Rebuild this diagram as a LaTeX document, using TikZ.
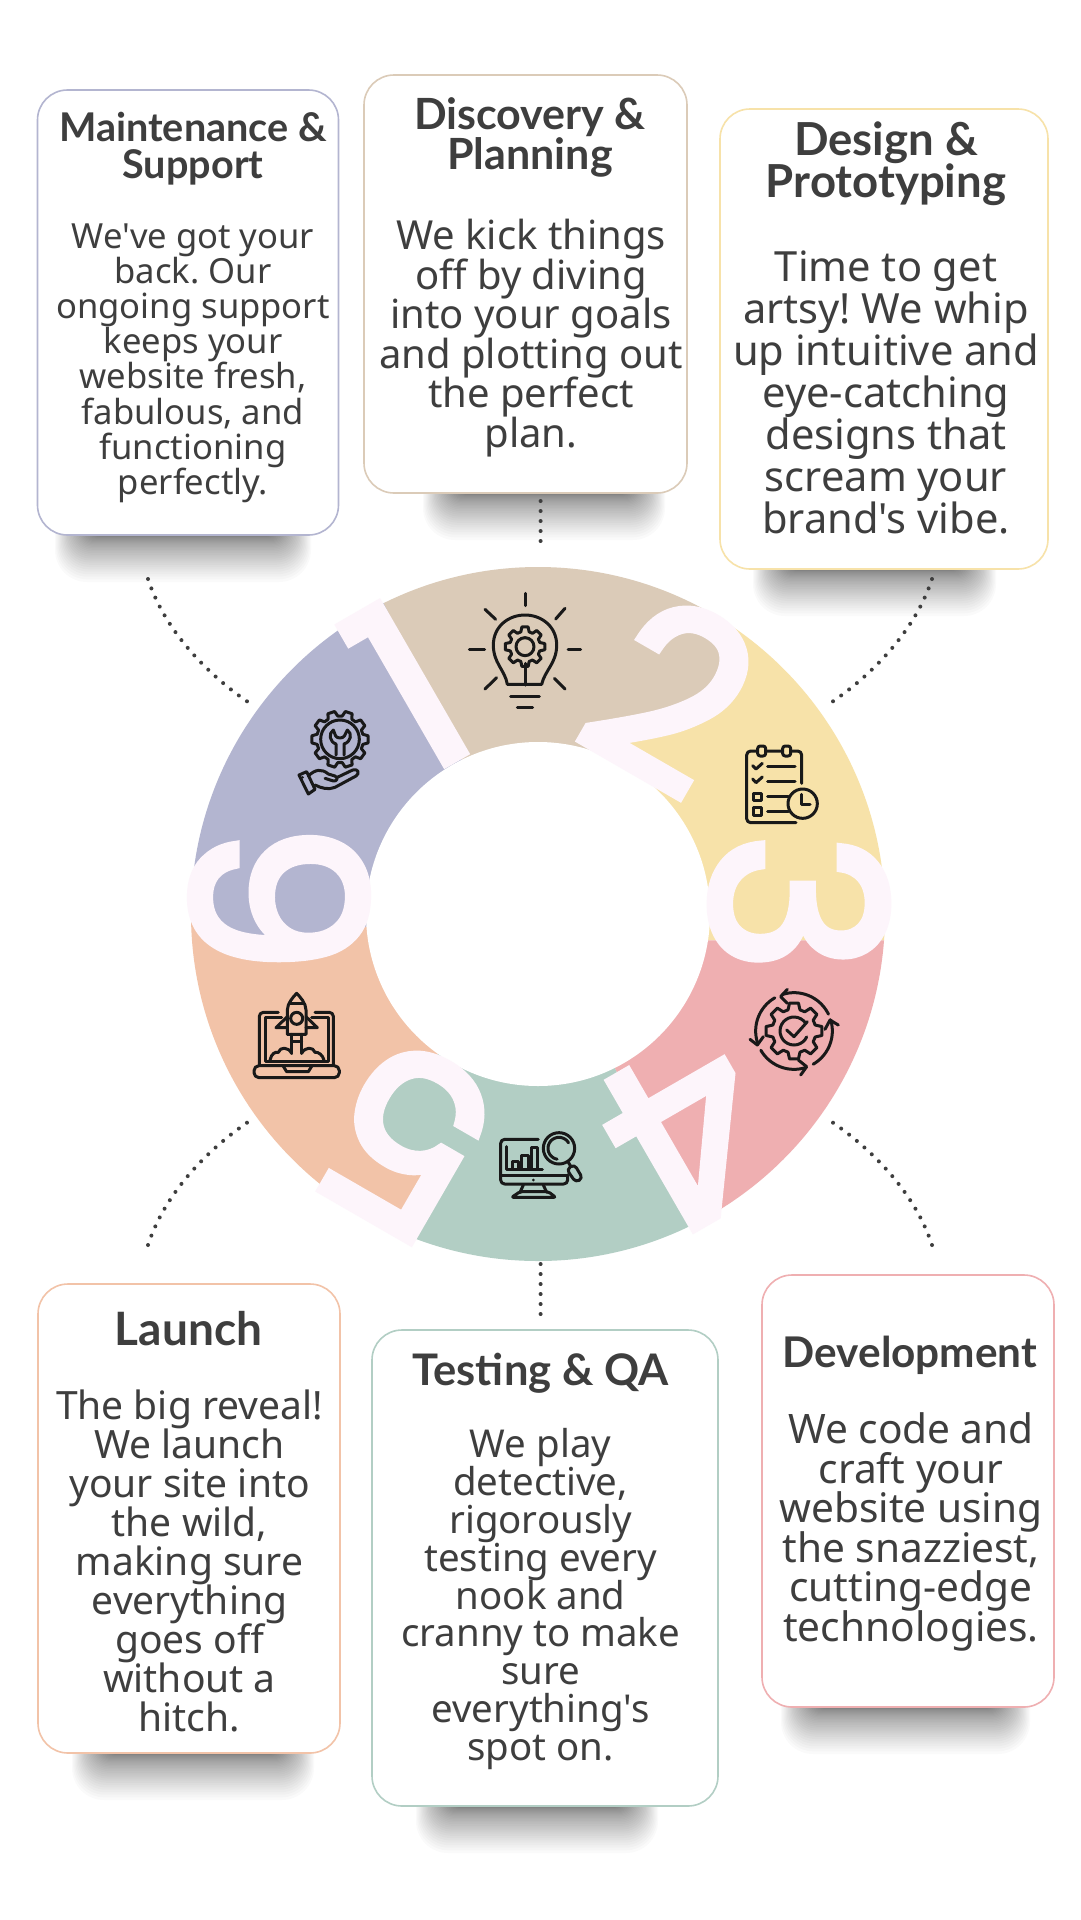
\documentclass[tikz,border=0pt]{standalone}
\usepackage{fontspec}
\newfontfamily\cardfont{Noto Sans}
\newfontfamily\titlefont{Lato}
\newfontfamily\digitfont[FakeBold=3.4]{Poppins}
\definecolor{ctan}{HTML}{DBCBB8}
\definecolor{cyel}{HTML}{F7E2A9}
\definecolor{cpink}{HTML}{EFAFB1}
\definecolor{cgreen}{HTML}{B2CEC4}
\definecolor{corange}{HTML}{F2C3A8}
\definecolor{cpurple}{HTML}{B3B5D0}
\definecolor{cdigit}{HTML}{FDF5FB}
\definecolor{ctext}{HTML}{3E3E3E}
\tikzset{
  cardbox/.style={draw=#1,fill=white,line width=1.6pt,rounded corners=30pt,inner sep=0pt},
  ttl/.style 2 args={text=ctext,align=center,inner sep=0pt,execute at begin node={\lineskiplimit=-100pt\frenchspacing},font=\titlefont\fontsize{#1}{#2}\selectfont\bfseries},
  bdy/.style 2 args={text=ctext,align=center,inner sep=0pt,execute at begin node={\lineskiplimit=-100pt\frenchspacing},font=\cardfont\fontsize{#1}{#2}\selectfont},
  digitnode/.style={text=cdigit,inner sep=0pt,font=\fontsize{238}{238}\selectfont\digitfont},
  dotlink/.style={draw=ctext,line width=4pt,line cap=round,dash pattern=on 0pt off 10pt},
  ico/.style={draw=black!90,line width=3pt,line cap=round,line join=round},
  icog/.style={shift={(#1)},scale=0.33333},
}
\newcommand\softshadow[3]{% x1 x2 y0
  \foreach \k in {1,...,32}{%
    \pgfmathsetmacro\tt{\k/32}
    \pgfmathsetmacro\dd{38*\tt-20}
    \pgfmathsetmacro\rr{6+26*\tt}
    \pgfmathsetmacro\bb{#3+1+46*\tt^1.9}
    \fill[black,opacity=0.02,rounded corners=\rr pt] ({#1-\dd},{#3-40}) rectangle ({#2+\dd},\bb);
  }}
\newcommand\gearshape[6]{% cx cy ro ri n rot
  \def\gs{(360/#5)}%
  \draw[ico] ({#1+#4*cos(-0.35*\gs+#6)},{#2+#4*sin(-0.35*\gs+#6)})
    foreach \k in {0,...,\numexpr#5-1\relax}{
      -- ({#1+#4*cos((\k-0.35)*\gs+#6)},{#2+#4*sin((\k-0.35)*\gs+#6)})
      -- ({#1+#3*cos((\k-0.2)*\gs+#6)},{#2+#3*sin((\k-0.2)*\gs+#6)})
      -- ({#1+#3*cos((\k+0.2)*\gs+#6)},{#2+#3*sin((\k+0.2)*\gs+#6)})
      -- ({#1+#4*cos((\k+0.35)*\gs+#6)},{#2+#4*sin((\k+0.35)*\gs+#6)})
    } -- cycle;}
\newcommand\arcp[5]{% cx cy r a b
  \draw[ico] plot[domain=#4:#5,samples=24] ({#1+#3*cos(\x)},{#2+#3*sin(\x)});}
\begin{document}
\begin{tikzpicture}[x=1pt,y=-1pt]
\useasboundingbox (0,0) rectangle (1080,1920);
\fill[white] (0,0) rectangle (1080,1920);
% shadows
\softshadow{73}{293}{535}
\softshadow{441}{647}{493}
\softshadow{771}{978}{569}
\softshadow{90}{296}{1753}
\softshadow{434}{640}{1806}
\softshadow{799}{1012}{1707}
% ring: sectors meet under the digits
\begin{scope}
\clip (538,914) circle (347);
\begin{scope}[shift={(180,550)},scale=0.45914]
\fill[ctan] (780,793) -- (610,450) -- (440,110) -- (270,-230) -- (1300,-230) -- (1300,0) -- (1190,140) -- (1215,240) -- (1190,300) -- (1100,355) -- (1000,380) -- (900,420) -- cycle;
\fill[cyel] (780,793) -- (900,420) -- (1000,380) -- (1100,355) -- (1190,300) -- (1215,240) -- (1190,140) -- (1300,0) -- (1700,0) -- (1700,850) -- (1150,850) -- cycle;
\fill[cpink] (780,793) -- (1150,850) -- (1700,850) -- (1700,1820) -- (1300,1820) -- (1125,1475) -- (945,1125) -- cycle;
\fill[cgreen] (780,793) -- (945,1125) -- (1125,1475) -- (1300,1820) -- (400,1820) -- (490,1450) -- (560,1340) -- (440,1300) -- (409,1200) -- (495,1110) -- (560,1100) -- cycle;
\fill[corange] (780,793) -- (560,1100) -- (495,1110) -- (409,1200) -- (440,1300) -- (560,1340) -- (490,1450) -- (400,1820) -- (-300,1820) -- (-300,790) -- (50,790) -- (110,860) -- (205,885) -- (300,880) -- (405,820) -- cycle;
\fill[cpurple] (780,793) -- (405,820) -- (300,880) -- (205,885) -- (110,860) -- (50,790) -- (-300,790) -- (-300,-230) -- (270,-230) -- (440,110) -- (610,450) -- cycle;
\end{scope}
\end{scope}
\fill[white] (538,914) circle (172);
% digits
\node[digitnode,rotate=30]  (d1) at (408,686) {1};
\node[digitnode,rotate=-30] (d2) at (672,694) {2};
\node[digitnode,rotate=-90] (d3) at (799,903) {3};
\node[digitnode,rotate=-150](d4) at (690,1133) {4};
\node[digitnode,rotate=150] (d5) at (407,1140) {5};
\node[digitnode,rotate=90]  (d6) at (279,900) {6};
% cards
\node[cardbox=cpurple,minimum width=301pt,minimum height=445pt] (mcard) at (188,312.5) {};
\node[cardbox=ctan,minimum width=323pt,minimum height=418pt] (dcard) at (525.5,284) {};
\node[cardbox=cyel,minimum width=328pt,minimum height=460pt] (pcard) at (884,339) {};
\node[cardbox=corange,minimum width=302pt,minimum height=469pt] (lcard) at (189,1518.5) {};
\node[cardbox=cgreen,minimum width=346pt,minimum height=476pt] (tcard) at (545,1568) {};
\node[cardbox=cpink,minimum width=292pt,minimum height=432pt] (vcard) at (908,1491) {};
% text
\node[ttl={39.6}{37}] (mt) at (193,149) {Maintenance \&\\Support};
\node[bdy={34.6}{35.2}] (mb) at (193,363) {We've got your\\back. Our\\ongoing support\\keeps your\\website fresh,\\fabulous, and\\functioning\\perfectly.};
\node[ttl={43}{40}] (dt) at (530,137) {Discovery \&\\Planning};
\node[bdy={40}{39.6}] (db) at (531,338) {We kick things\\off by diving\\into your goals\\and plotting out\\the perfect\\plan.};
\node[ttl={45.5}{42}] (pt) at (886,164) {Design \&\\Prototyping};
\node[bdy={41.6}{42}] (pb) at (886,392) {Time to get\\artsy! We whip\\up intuitive and\\eye-catching\\designs that\\scream your\\brand's vibe.};
\node[ttl={46}{42}] (lt) at (188.5,1329) {Launch};
\node[bdy={39}{39}] (lb) at (189.5,1561) {The big reveal!\\We launch\\your site into\\the wild,\\making sure\\everything\\goes off\\without a\\hitch.};
\node[ttl={43.5}{40}] (tt) at (540.6,1373) {Testing \& QA};
\node[bdy={38.4}{37.8}] (tb) at (540.6,1599) {We play\\detective,\\rigorously\\testing every\\nook and\\cranny to make\\sure\\everything's\\spot on.};
\node[ttl={42.3}{40}] (vt) at (910,1355) {Development};
\node[bdy={40.6}{39.6}] (vb) at (911,1532) {We code and\\craft your\\website using\\the snazziest,\\cutting-edge\\technologies.};
% connectors
\coordinate (c1a) at (540.6,501); \coordinate (c1b) at (540.6,551);
\coordinate (c2a) at (540.6,1264); \coordinate (c2b) at (540.6,1315);
\coordinate (c3a) at (148,579); \coordinate (c3b) at (248,702);
\coordinate (c4a) at (932,579); \coordinate (c4b) at (832,702);
\coordinate (c5a) at (148,1245); \coordinate (c5b) at (248,1122);
\coordinate (c6a) at (932,1245); \coordinate (c6b) at (832,1122);
\draw[dotlink] (c1a) -- (c1b);
\draw[dotlink] (c2a) -- (c2b);
\draw[dotlink] (c3a) .. controls (163,625) and (200,669) .. (c3b);
\draw[dotlink] (c4a) .. controls (917,625) and (880,669) .. (c4b);
\draw[dotlink] (c5a) .. controls (163,1199) and (200,1155) .. (c5b);
\draw[dotlink] (c6a) .. controls (917,1199) and (880,1155) .. (c6b);
% bulb
\begin{scope}[icog={450,575}]
\foreach \a/\b/\c/\d in {225/55/225/92,105/103/137/133,345/100/317/132,58/222/104/222,354/222/392/222,105/342/140/308,345/342/313/310,182/363/268/363,202/397/248/397,225/265/225/330}
  {\draw[ico] (\a,\b) -- (\c,\d);}
\draw[ico] (172,328) .. controls (165,285) and (130,265) .. (130,210) .. controls (130,155) and (175,120) .. (225,120) .. controls (275,120) and (320,155) .. (320,210) .. controls (320,265) and (285,285) .. (275,328) -- cycle;
\gearshape{225}{215}{60}{46}{8}{0}
\draw[ico] (225,215) circle (27);
\end{scope}
% checklist
\begin{scope}[icog={720,725}]
\draw[ico,rounded corners=4pt] (245,175) -- (245,78) -- (212,78) (188,78) -- (137,78) (113,78) -- (80,78) -- (80,293) -- (228,293);
\draw[ico,rounded corners=2.5pt] (113,63) rectangle (137,93);
\draw[ico,rounded corners=2.5pt] (188,63) rectangle (212,93);
\draw[ico] (98,122) -- (108,132) -- (127,115);
\draw[ico] (98,162) -- (108,173) -- (127,156);
\draw[ico] (143,123) -- (225,123);
\draw[ico] (143,168) -- (225,168);
\draw[ico] (143,213) -- (205,213);
\draw[ico] (143,259) -- (205,259);
\draw[ico] (101,204) rectangle (124,226);
\draw[ico] (101,248) rectangle (124,270);
\draw[ico] (248,236) circle (44);
\draw[ico] (245,208) -- (245,238) -- (270,238);
\end{scope}
% gear and arrows
\begin{scope}[icog={730,970}]
\gearshape{192}{183}{85}{66}{8}{0}
\arcp{192}{183}{42}{-35}{-335}
\draw[ico] (170,180) -- (192,200) -- (232,155);
\arcp{192}{183}{115}{-26}{-108}
\arcp{192}{183}{115}{-120}{-200}
\arcp{192}{183}{115}{150}{72}
\arcp{192}{183}{115}{60}{-17}
\draw[ico] (172,58) -- (152,80) -- (172,100);
\draw[ico] (60,208) -- (82,225) -- (100,200);
\draw[ico] (205,270) -- (230,290) -- (212,315);
\draw[ico] (285,178) -- (300,150) -- (325,165);
\end{scope}
% monitor
\begin{scope}[icog={485,1110}]
\draw[ico,rounded corners=4pt] (160,88) -- (47,88) -- (47,222) -- (248,222) -- (248,195);
\draw[ico] (47,195) -- (248,195);
\draw[ico] (115,225) -- (105,247);
\draw[ico] (175,225) -- (185,247);
\draw[ico,rounded corners=2pt] (105,245) -- (190,245) -- (212,262) -- (80,262) -- cycle;
\fill[black!90] (145,210) circle (4.5);
\draw[ico] (65,110) -- (65,178) -- (172,178);
\draw[ico] (82,178) -- (82,155) -- (100,155) -- (100,178);
\draw[ico] (110,178) -- (110,135) -- (130,135) -- (130,178);
\draw[ico] (140,178) -- (140,113) -- (157,113) -- (157,178);
\draw[ico] (222,115) circle (47);
\arcp{222}{115}{33}{100}{330}
\draw[ico] (250,157) -- (258,170);
\draw[ico,rounded corners=4pt] (245,178) -- (268,163) -- (293,205) -- (272,217) -- cycle;
\end{scope}
% laptop
\begin{scope}[icog={240,975}]
\draw[ico,rounded corners=4pt] (115,112) -- (58,112) -- (58,270);
\draw[ico,rounded corners=4pt] (225,112) -- (280,112) -- (280,270);
\draw[ico] (125,128) -- (75,128) -- (75,258) -- (265,258) -- (265,128) -- (215,128);
\draw[ico,rounded corners=5pt] (42,272) rectangle (298,308);
\draw[ico] (130,274) -- (140,290) -- (205,290) -- (215,274);
\draw[ico] (142,178) -- (142,105) .. controls (142,85) and (160,65) .. (170,55) .. controls (180,65) and (198,85) .. (198,105) -- (198,178) -- cycle;
\draw[ico] (150,85) -- (190,85);
\draw[ico] (170,130) circle (18);
\draw[ico] (142,125) -- (108,158) -- (142,158);
\draw[ico] (198,125) -- (232,158) -- (198,158);
\draw[ico] (155,178) -- (155,235);
\draw[ico] (185,178) -- (185,235);
\draw[ico] (155,200) -- (185,200);
\draw[ico] (90,255) .. controls (95,235) and (105,230) .. (115,232) .. controls (120,215) and (145,215) .. (155,235);
\draw[ico] (185,235) .. controls (195,215) and (220,215) .. (225,232) .. controls (235,230) and (248,240) .. (252,255);
\end{scope}
% hand
\begin{scope}[icog={280,700}]
\gearshape{180}{118}{85}{70}{10}{0}
\draw[ico] (180,118) circle (58);
\draw[ico] (160,90) -- (167,108) .. controls (172,116) and (188,116) .. (193,108) -- (202,90);
\draw[ico] (160,90) .. controls (145,100) and (148,125) .. (168,132) -- (168,165);
\draw[ico] (202,90) .. controls (217,100) and (214,125) .. (192,132) -- (192,165);
\draw[ico] (57,225) -- (80,215) -- (105,268) -- (85,282) -- cycle;
\fill[black!90] (68,232) circle (4);
\draw[ico] (85,228) .. controls (105,208) and (125,205) .. (145,222) -- (165,228) .. controls (175,232) and (172,245) .. (160,243) -- (135,235);
\draw[ico] (172,232) -- (218,210) .. controls (235,205) and (240,220) .. (228,228) -- (165,262) .. controls (145,270) and (125,265) .. (105,255);
\end{scope}
\end{tikzpicture}
\end{document}
